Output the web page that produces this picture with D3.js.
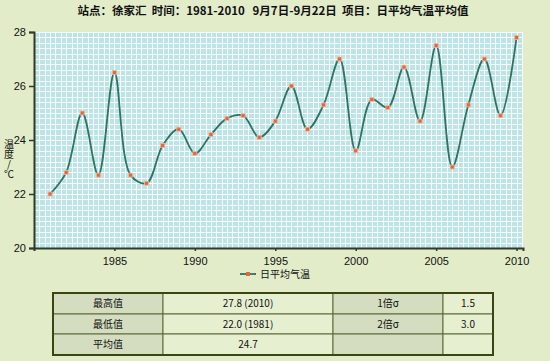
<!DOCTYPE html>
<html>
  <head>
    <title>徐家汇 日平均气温平均值</title>
    <meta charset="utf-8">
    <script src="https://cdn.jsdelivr.net/npm/d3@7/dist/d3.min.js"></script>
    <style>
      body { margin: 0; background: #e2ecc8; }
      .chart text { font-family: "Liberation Sans", Arial, sans-serif; fill: #111; }
    </style>
  </head>
  <body>
    <svg class="chart"></svg>
    <script>

    // data
    var years = d3.range(1981, 2011);
    var temps = [22.0, 22.8, 25.0, 22.7, 26.5, 22.7, 22.4, 23.8, 24.4, 23.5,
                 24.2, 24.8, 24.9, 24.1, 24.7, 26.0, 24.4, 25.3, 27.0, 23.6,
                 25.5, 25.2, 26.7, 24.7, 27.5, 23.0, 25.3, 27.0, 24.9, 27.8];
    var xTicks = [1985, 1990, 1995, 2000, 2005, 2010];
    var yTicks = [20, 22, 24, 26, 28];
    var seriesName = "日平均气温";
    var title = "站点：徐家汇  时间：1981-2010   9月7日-9月22日  项目：日平均气温平均值";
    var yTitle = "温度/℃";
    var tableRows = [
      ["最高值", "27.8 (2010)", "1倍σ", "1.5"],
      ["最低值", "22.0 (1981)", "2倍σ", "3.0"],
      ["平均值", "24.7", "", ""]
    ];

    var width = 550, height = 361;
    var pLeft = 34, pRight = 523, pTop = 32, pBottom = 248;
    var cjk = "'Noto Sans CJK SC', sans-serif";

    var x = d3.scaleLinear().domain([1980, 2010.4]).range([pLeft, pRight]);
    var y = d3.scaleLinear().domain([20, 28]).range([pBottom, pTop]);

    var svg = d3.select(".chart").attr("width", width).attr("height", height);

    svg.append("rect").attr("width", width).attr("height", height).attr("fill", "#e2ecc8");

    // title
    svg.append("text")
      .attr("x", 273).attr("y", 15)
      .attr("text-anchor", "middle")
      .attr("font-size", "11.5px")
      .attr("font-weight", "bold")
      .attr("fill", "#222")
      .style("font-family", cjk)
      .style("white-space", "pre")
      .text(title);

    // plot background and grid
    svg.append("rect")
      .attr("x", pLeft).attr("y", pTop)
      .attr("width", pRight - pLeft).attr("height", pBottom - pTop)
      .attr("fill", "#bde3e6");

    var grid = svg.append("g").attr("stroke", "#f4fbfb").attr("stroke-width", 1);
    grid.selectAll(".gy")
      .data(d3.range(20.2, 28.01, 0.2))
      .enter().append("line")
      .attr("x1", pLeft).attr("x2", pRight)
      .attr("y1", function(d) { return Math.round(y(d)) + 0.5; })
      .attr("y2", function(d) { return Math.round(y(d)) + 0.5; });
    grid.selectAll(".gx")
      .data(d3.range(1980 + 1 / 3, 2010.4, 1 / 3))
      .enter().append("line")
      .attr("y1", pTop).attr("y2", pBottom)
      .attr("x1", function(d) { return Math.round(x(d)) + 0.5; })
      .attr("x2", function(d) { return Math.round(x(d)) + 0.5; });

    // axes
    var yAxis = svg.append("g")
      .attr("transform", "translate(" + pLeft + ",0)")
      .call(d3.axisLeft(y).tickValues(yTicks).tickSize(5).tickPadding(3));
    var xAxis = svg.append("g")
      .attr("transform", "translate(0," + pBottom + ")")
      .call(d3.axisBottom(x).tickValues(xTicks).tickFormat(d3.format("d")).tickSize(3).tickPadding(6));
    [yAxis, xAxis].forEach(function(a) {
      a.select(".domain").attr("stroke", "#2f3a2a").attr("stroke-width", 2);
      a.selectAll(".tick line").attr("stroke", "#2f3a2a").attr("stroke-width", 1.5);
      a.selectAll("text").attr("font-size", "11px").attr("fill", "#111");
    });

    // y axis title, written top to bottom
    svg.append("text")
      .attr("x", 9)
      .attr("y", 139)
      .attr("font-size", "10px")
      .attr("fill", "#333")
      .style("font-family", cjk)
      .style("writing-mode", "vertical-rl")
      .style("text-orientation", "upright")
      .text(yTitle);

    // line
    var line = d3.line()
      .x(function(d, i) { return x(years[i]); })
      .y(function(d) { return y(d); })
      .curve(d3.curveCatmullRom);

    svg.append("path")
      .datum(temps)
      .attr("fill", "none")
      .attr("stroke", "#2d7462")
      .attr("stroke-width", 1.8)
      .attr("d", line);

    svg.append("g").selectAll("rect")
      .data(temps)
      .enter().append("rect")
      .attr("x", function(d, i) { return x(years[i]) - 2; })
      .attr("y", function(d) { return y(d) - 2; })
      .attr("width", 4).attr("height", 4)
      .attr("fill", "#e2663e")
      .attr("stroke", "#f2b89a")
      .attr("stroke-width", 0.8);

    // legend
    var lg = svg.append("g").attr("transform", "translate(240,274)");
    lg.append("line").attr("x1", 0).attr("x2", 16).attr("stroke", "#2d7462").attr("stroke-width", 1.8);
    lg.append("rect").attr("x", 6).attr("y", -2).attr("width", 4).attr("height", 4).attr("fill", "#e2663e");
    lg.append("text").attr("x", 20).attr("y", 4)
      .attr("font-size", "10px").attr("fill", "#444")
      .style("font-family", cjk)
      .text(seriesName);

    // stats table
    var colX = [53, 163, 333, 443, 493];
    var rowY = [293, 314, 334, 355];
    var tbl = svg.append("g");
    tableRows.forEach(function(row, r) {
      row.forEach(function(cell, c) {
        tbl.append("rect")
          .attr("x", colX[c]).attr("y", rowY[r])
          .attr("width", colX[c + 1] - colX[c]).attr("height", rowY[r + 1] - rowY[r])
          .attr("fill", (c % 2 === 0) ? "#d4ddc0" : "#e6efd0")
          .attr("stroke", "#5d6a3a").attr("stroke-width", 1);
        tbl.append("text")
          .attr("x", (colX[c] + colX[c + 1]) / 2)
          .attr("y", (rowY[r] + rowY[r + 1]) / 2 + 3.5)
          .attr("text-anchor", "middle")
          .attr("font-size", "10px")
          .attr("fill", "#3a3a2a")
          .style("font-family", cjk)
          .text(cell);
      });
    });
    tbl.append("rect")
      .attr("x", colX[0]).attr("y", rowY[0])
      .attr("width", colX[4] - colX[0]).attr("height", rowY[3] - rowY[0])
      .attr("fill", "none").attr("stroke", "#3b4512").attr("stroke-width", 2);

    </script>
  </body>
</html>
